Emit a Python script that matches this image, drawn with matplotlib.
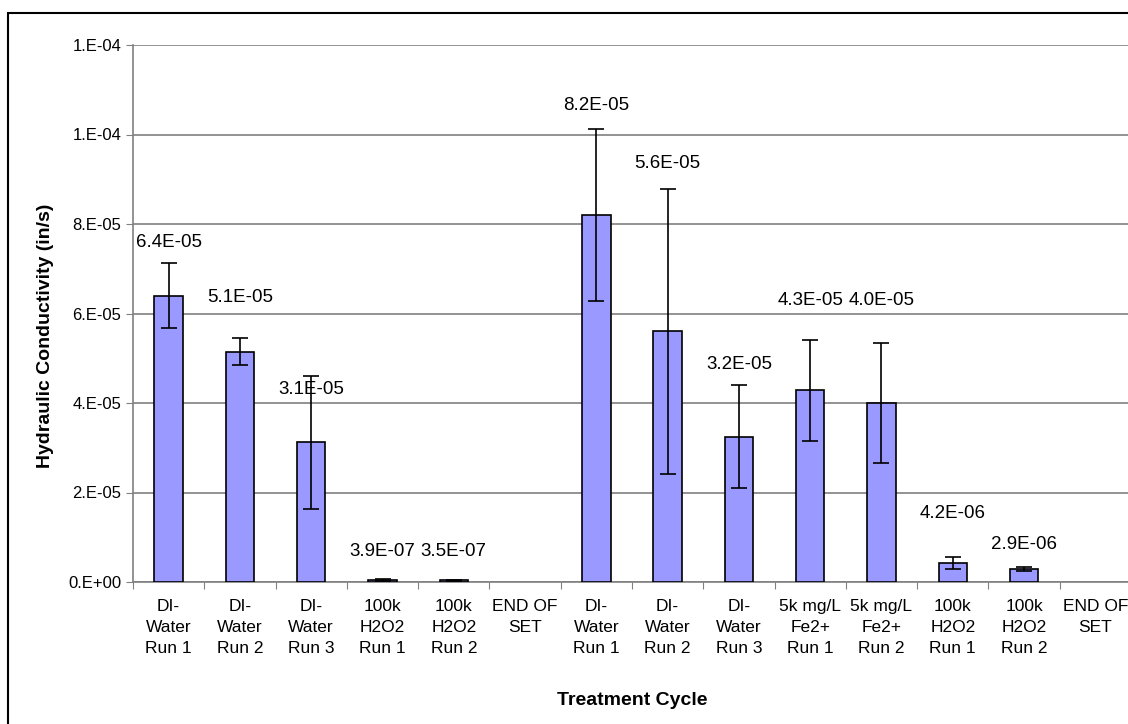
import numpy as np
import matplotlib
matplotlib.use('Agg')
from matplotlib import pyplot as plt
from matplotlib.patches import Rectangle

plt.rcParams['font.family'] = ['Liberation Sans', 'DejaVu Sans']

# categorias y valores
categorias = ['DI-\nWater\nRun 1', 'DI-\nWater\nRun 2', 'DI-\nWater\nRun 3',
              '100k\nH2O2\nRun 1', '100k\nH2O2\nRun 2', 'END OF\nSET\n',
              'DI-\nWater\nRun 1', 'DI-\nWater\nRun 2', 'DI-\nWater\nRun 3',
              '5k mg/L\nFe2+\nRun 1', '5k mg/L\nFe2+\nRun 2',
              '100k\nH2O2\nRun 1', '100k\nH2O2\nRun 2', 'END OF\nSET\n']
valores = [6.4e-05, 5.15e-05, 3.12e-05, 3.9e-07, 3.5e-07, np.nan,
           8.2e-05, 5.6e-05, 3.25e-05, 4.28e-05, 4.0e-05, 4.2e-06, 2.9e-06, np.nan]
errores = [0.72e-05, 0.31e-05, 1.48e-05, 0.02e-05, 0.02e-05, np.nan,
           1.93e-05, 3.18e-05, 1.15e-05, 1.12e-05, 1.33e-05, 0.13e-05, 0.035e-05, np.nan]
# altura (en unidades de datos) donde se colocan las etiquetas
etiqueta_y = [7.58e-05, 6.35e-05, 4.31e-05, 6.9e-06, 6.9e-06, np.nan,
              1.064e-04, 9.36e-05, 4.85e-05, 6.3e-05, 6.3e-05, 1.52e-05, 8.3e-06, np.nan]

fig = plt.figure(figsize=(11.28, 7.24), dpi=100)
ax = fig.add_axes([133/1128, 142/724, 998/1128, 537/724])

x = np.arange(len(categorias))
v = np.array(valores)
e = np.array(errores)
ok = ~np.isnan(v)
ax.bar(x[ok], v[ok], width=0.4, color='#9999FF', edgecolor='black', linewidth=1.2, zorder=3)
ax.errorbar(x[ok], v[ok], yerr=e[ok], fmt='none', ecolor='black', elinewidth=1.2,
            capsize=6, capthick=1.2, zorder=4)

for xi, val, yl in zip(x, valores, etiqueta_y):
    if not np.isnan(val):
        ax.text(xi, yl, f"{val:.1E}", ha='center', va='center', fontsize=13.5)

ax.set_xlim(-0.5, len(categorias) - 0.5)
ax.set_ylim(0, 1.2e-04)
ax.set_yticks(np.arange(0, 1.21e-04, 2e-05))
ax.set_yticklabels([f"{t:.0E}".replace('E', '.E') for t in ax.get_yticks()], fontsize=12)
ax.yaxis.grid(True, color='#808080', linewidth=1.2, zorder=0)

ax.set_xticks(np.arange(-0.5, len(categorias), 1))
ax.set_xticklabels([])
ax.set_xticks(x, minor=True)
ax.set_xticklabels(categorias, minor=True, fontsize=12.5, linespacing=1.5)
ax.tick_params(axis='x', which='minor', length=0, pad=12)
ax.tick_params(axis='x', which='major', length=5, direction='out', color='#808080')
ax.tick_params(axis='y', length=5, direction='out', color='#808080')

for lado in ['top', 'right']:
    ax.spines[lado].set_visible(False)
for lado in ['left', 'bottom']:
    ax.spines[lado].set_color('#808080')
    ax.spines[lado].set_linewidth(1.2)

ax.set_ylabel('Hydraulic Conductivity (in/s)', fontsize=14, fontweight='bold')
ax.yaxis.set_label_coords(-0.079, 0.458)
ax.set_xlabel('Treatment Cycle', fontsize=14, fontweight='bold')
ax.xaxis.set_label_coords(0.5, -0.205)

# marco de la figura
fig.patches.append(Rectangle((8/1128, -0.05), 1.1, 0.05 + (724-13)/724, transform=fig.transFigure,
                             fill=False, edgecolor='black', linewidth=1.5))

fig.savefig('out.png', dpi=100)
